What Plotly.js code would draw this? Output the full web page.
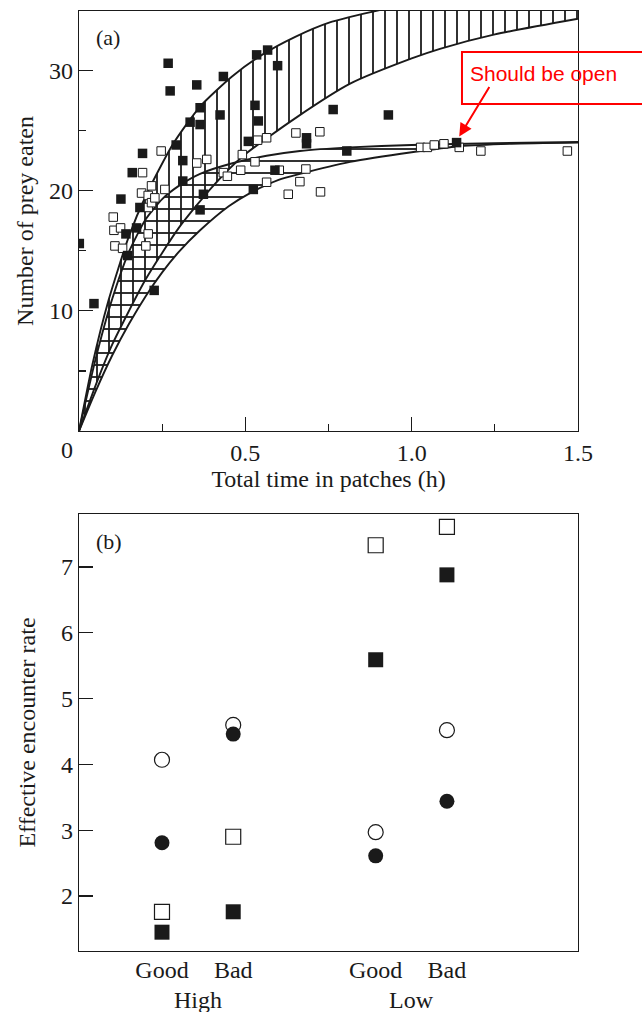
<!DOCTYPE html>
<html><head><meta charset="utf-8">
<script src="https://cdn.plot.ly/plotly-3.0.1.min.js"></script>
<style>html,body{margin:0;padding:0;background:#fff}#chart{width:642px;height:1012px}</style>
</head><body><div id="chart"></div>
<script>
// ---------- Panel (a) data ----------
const curveA_x = [0, 0.04, 0.088, 0.15, 0.203, 0.283, 0.364, 0.46, 0.55, 0.65, 0.754, 0.884, 1.0, 1.2, 1.5];
const curveA_y = [0, 5.5, 10.8, 16.2, 19.7, 23.9, 27.0, 29.5, 31.3, 32.8, 34.0, 34.9, 35.6, 36.5, 37.5];
const curveB_x = [0, 0.05, 0.1, 0.2, 0.3, 0.4, 0.494, 0.654, 0.815, 1.0, 1.085, 1.25, 1.5];
const curveB_y = [0, 3.8, 7.2, 12.6, 16.9, 20.3, 22.9, 26.1, 28.9, 31.0, 31.8, 33.0, 34.3];
const curveC_x = [0, 0.05, 0.1, 0.15, 0.2, 0.25, 0.3, 0.364, 0.464, 0.564, 0.664, 0.815, 1.0, 1.25, 1.5];
const curveC_y = [0, 6.0, 11.0, 14.9, 17.6, 19.3, 20.4, 21.4, 22.3, 22.9, 23.3, 23.6, 23.8, 23.95, 24.05];
const curveD_x = [0, 0.05, 0.1, 0.15, 0.2, 0.25, 0.3, 0.364, 0.45, 0.514, 0.6, 0.664, 0.815, 1.0, 1.145, 1.3, 1.5];
const curveD_y = [0, 3.3, 6.3, 8.9, 11.2, 13.2, 14.9, 16.7, 18.7, 19.8, 20.9, 21.4, 22.4, 23.2, 23.7, 23.9, 24.0];

const filled_x = [0.001, 0.045, 0.126, 0.141, 0.146, 0.160, 0.173, 0.183, 0.191, 0.226, 0.268, 0.274, 0.292, 0.312, 0.312, 0.334, 0.354, 0.364, 0.364, 0.374, 0.364, 0.424, 0.434, 0.509, 0.524, 0.529, 0.539, 0.534, 0.567, 0.597, 0.589, 0.684, 0.684, 0.764, 0.805, 0.930, 1.135];
const filled_y = [15.6, 10.6, 19.3, 16.4, 14.6, 21.5, 16.9, 18.6, 23.1, 11.7, 30.6, 28.3, 23.8, 22.5, 20.8, 25.7, 28.8, 26.9, 25.5, 19.7, 18.4, 26.3, 29.5, 24.1, 20.1, 27.1, 25.8, 31.3, 31.7, 30.4, 21.7, 24.4, 23.9, 26.75, 23.3, 26.3, 24.0];

const open_x = [0.103, 0.105, 0.125, 0.108, 0.131, 0.188, 0.191, 0.201, 0.208, 0.208, 0.208, 0.218, 0.218, 0.228, 0.247, 0.258, 0.354, 0.384, 0.434, 0.446, 0.486, 0.491, 0.529, 0.537, 0.564, 0.564, 0.602, 0.629, 0.652, 0.664, 0.682, 0.724, 0.726, 1.027, 1.047, 1.068, 1.097, 1.143, 1.208, 1.468];
const open_y = [17.8, 16.7, 16.9, 15.4, 15.2, 19.8, 21.5, 15.4, 19.6, 18.6, 16.4, 20.4, 19.0, 19.4, 23.3, 20.1, 22.3, 22.6, 21.5, 21.2, 21.7, 23.0, 22.4, 24.2, 24.4, 20.7, 21.7, 19.7, 24.8, 20.75, 21.8, 24.9, 19.9, 23.6, 23.6, 23.8, 23.9, 23.6, 23.3, 23.3];

const xTickVals_a = [0, 0.5, 1.0, 1.5];
const xTickText_a = ['', '0.5', '1.0', '1.5'];
const yTickVals_a = [10, 20, 30];
const xMinor_a = [0.25, 0.75, 1.25];
const yMinor_a = [5, 15, 25];

// ---------- Panel (b) data ----------
const bPos = [1, 2, 4, 5];
const bTickText = ['Good', 'Bad', 'Good', 'Bad'];
const groupPos = [1.5, 4.5];
const groupText = ['High', 'Low'];
const openCircle = [4.07, 4.60, 2.97, 4.52];
const filledCircle = [2.81, 4.46, 2.61, 3.44];
const openSquare = [1.76, 2.90, 7.33, 7.61];
const filledSquare = [1.45, 1.76, 5.59, 6.88];
const yTickVals_b = [2, 3, 4, 5, 6, 7];

const INK = '#1a1a1a';
const serif = '"Liberation Serif", "DejaVu Serif", serif';
const FS = 24;

const curveLine = {color: INK, width: 1.9, shape: 'spline', smoothing: 0.6};
const base = {mode: 'lines', hoverinfo: 'skip', showlegend: false, xaxis: 'x', yaxis: 'y'};

const traces = [
  Object.assign({}, base, {x: curveB_x, y: curveB_y, line: curveLine}),
  Object.assign({}, base, {x: curveA_x, y: curveA_y, line: curveLine, fill: 'tonexty',
    fillcolor: 'rgba(0,0,0,0)',
    fillpattern: {shape: '|', fgcolor: INK, bgcolor: 'rgba(0,0,0,0)', size: 12, solidity: 0.15}}),
  Object.assign({}, base, {x: curveD_x, y: curveD_y, line: curveLine}),
  Object.assign({}, base, {x: curveC_x, y: curveC_y, line: curveLine, fill: 'tonexty',
    fillcolor: 'rgba(0,0,0,0)',
    fillpattern: {shape: '-', fgcolor: INK, bgcolor: 'rgba(0,0,0,0)', size: 12, solidity: 0.15}}),
  {x: open_x, y: open_y, mode: 'markers', type: 'scatter', xaxis: 'x', yaxis: 'y', showlegend: false,
    marker: {symbol: 'square', size: 8.5, color: '#fff', line: {color: INK, width: 1}}},
  {x: filled_x, y: filled_y, mode: 'markers', type: 'scatter', xaxis: 'x', yaxis: 'y', showlegend: false,
    marker: {symbol: 'square', size: 9.5, color: INK, line: {width: 0}}},
  // panel b
  {x: bPos, y: openCircle, mode: 'markers', xaxis: 'x2', yaxis: 'y2', showlegend: false,
    marker: {symbol: 'circle', size: 15, color: '#fff', line: {color: INK, width: 1.2}}},
  {x: bPos, y: filledCircle, mode: 'markers', xaxis: 'x2', yaxis: 'y2', showlegend: false,
    marker: {symbol: 'circle', size: 15, color: INK, line: {width: 0}}},
  {x: bPos, y: openSquare, mode: 'markers', xaxis: 'x2', yaxis: 'y2', showlegend: false,
    marker: {symbol: 'square', size: 15, color: '#fff', line: {color: INK, width: 1.2}}},
  {x: bPos, y: filledSquare, mode: 'markers', xaxis: 'x2', yaxis: 'y2', showlegend: false,
    marker: {symbol: 'square', size: 15, color: INK, line: {width: 0}}}
];

const tf = {family: serif, size: FS, color: INK};
const axisCommon = {showline: true, mirror: true, linecolor: INK, linewidth: 1.3, showgrid: false,
  zeroline: false, fixedrange: true, tickfont: tf};

const layout = {
  width: 642, height: 1012,
  margin: {l: 79, r: 64, t: 11, b: 61},
  paper_bgcolor: '#fff', plot_bgcolor: 'rgba(0,0,0,0)',
  font: tf,
  showlegend: false,
  xaxis: Object.assign({}, axisCommon, {domain: [0, 1], anchor: 'y', range: [0, 1.5],
    tickmode: 'array', tickvals: xTickVals_a, ticktext: xTickText_a,
    ticks: 'inside', ticklen: 14, tickwidth: 1.2, tickcolor: INK, ticklabelstandoff: 0,
    minor: {tickmode: 'array', tickvals: xMinor_a, ticks: 'inside', ticklen: 7, tickwidth: 1.2, tickcolor: INK, showgrid: false},
    title: {text: 'Total time in patches (h)', font: tf, standoff: 1}}),
  yaxis: Object.assign({}, axisCommon, {domain: [0.5532, 1], anchor: 'x', range: [0, 34.95],
    tickmode: 'array', tickvals: yTickVals_a,
    ticks: 'inside', ticklen: 14, tickwidth: 1.2, tickcolor: INK, ticklabelstandoff: 0,
    minor: {tickmode: 'array', tickvals: yMinor_a, ticks: 'inside', ticklen: 7, tickwidth: 1.2, tickcolor: INK, showgrid: false},
    title: {text: 'Number of prey eaten', font: tf, standoff: 8}}),
  xaxis2: Object.assign({}, axisCommon, {domain: [0, 1], anchor: 'y2', range: [-0.165, 6.84],
    tickmode: 'array', tickvals: bPos, ticktext: bTickText, ticks: '', ticklabelstandoff: -3}),
  yaxis2: Object.assign({}, axisCommon, {domain: [0, 0.4649], anchor: 'x2', range: [1.164, 7.805],
    tickmode: 'array', tickvals: yTickVals_b,
    ticks: 'inside', ticklen: 14, tickwidth: 1.2, tickcolor: INK, ticklabelstandoff: 0,
    title: {text: 'Effective encounter rate', font: tf, standoff: 18}}),
  shapes: [
    {type: 'rect', xref: 'paper', yref: 'paper', x0: 0.7675, x1: 1.16, y0: 0.9011, y1: 0.9564,
      line: {color: '#ff0000', width: 2}, fillcolor: 'rgba(0,0,0,0)'}
  ],
  annotations: [
    {xref: 'x', yref: 'y', x: 0, y: 0, text: '0', showarrow: false, xshift: -12, yshift: -19,
      xanchor: 'center', yanchor: 'middle', font: tf},
    {xref: 'x domain', yref: 'y domain', x: 0.059, y: 0.936, text: '(a)', showarrow: false,
      xanchor: 'center', yanchor: 'middle', font: {family: serif, size: 22, color: INK}},
    {xref: 'x2 domain', yref: 'y2 domain', x: 0.061, y: 0.938, text: '(b)', showarrow: false,
      xanchor: 'center', yanchor: 'middle', font: {family: serif, size: 22, color: INK}},
    {xref: 'x2', yref: 'paper', x: groupPos[0], y: -0.052, text: groupText[0], showarrow: false,
      xanchor: 'center', yanchor: 'middle', font: tf},
    {xref: 'x2', yref: 'paper', x: groupPos[1], y: -0.052, text: groupText[1], showarrow: false,
      xanchor: 'center', yanchor: 'middle', font: tf},
    {xref: 'paper', yref: 'paper', x: 0.93, y: 0.933, text: 'Should be open', showarrow: false,
      xanchor: 'center', yanchor: 'middle',
      font: {family: '"Liberation Sans", Arial, sans-serif', size: 21, color: '#ff0000'}},
    {xref: 'x', yref: 'y', x: 1.143, y: 24.5, text: '', showarrow: true, axref: 'pixel', ayref: 'pixel',
      ax: 31, ay: -51, arrowcolor: '#ff0000', arrowwidth: 2, arrowhead: 2, arrowsize: 1.3}
  ]
};

Plotly.newPlot('chart', traces, layout, {staticPlot: true, displayModeBar: false});
</script>
</body></html>
